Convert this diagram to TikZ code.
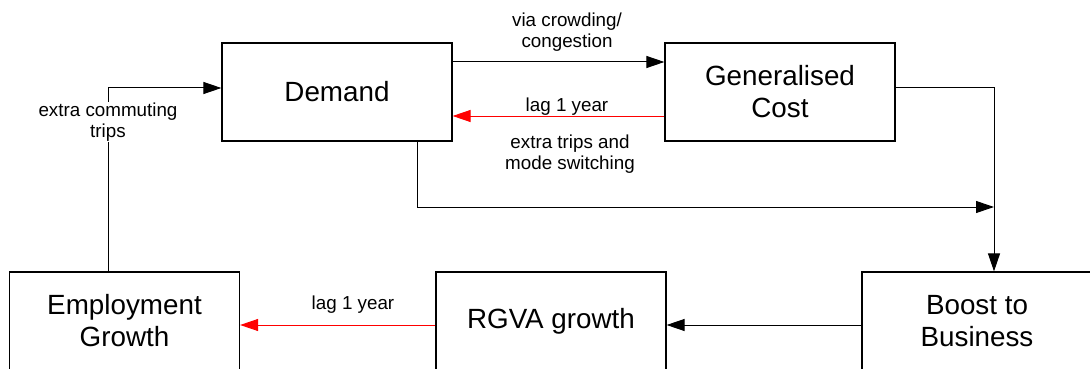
\documentclass[tikz,border=0pt]{standalone}
\usepackage{fontspec}
\setmainfont{Liberation Sans}
\usetikzlibrary{arrows.meta, calc}
\tikzset{%
    box/.style={draw, line width=1.2pt, minimum width=230pt, minimum height=98pt, align=center, inner sep=0pt, font=\fontsize{27.8}{32}\selectfont},
    lnk/.style={line width = 1pt},
    lnka/.style={line width = 1pt, -{Triangle[length=18pt,width=12pt]}},
    laga/.style={line width = 1pt, red, -{Triangle[length=18pt,width=12pt]}},
    lbl/.style={align=center, inner sep=1pt, font=\fontsize{18.8}{21}\selectfont},
}
\begin{document}
\begin{tikzpicture}[x=1pt,y=-1pt]
    \useasboundingbox (0,0) rectangle (1090,369);
    \node[box] (dem) at (337,92) {Demand};
    \node[box] (gc) at (780,92) {Generalised\\Cost};
    \node[box] (emp) at (124.5,321) {Employment\\Growth};
    \node[box] (rgva) at (551,321) {RGVA growth};
    \node[box] (boost) at (977,321) {Boost to\\Business};
    \coordinate (jn) at (994,207);
    \draw [lnka] ([yshift=30pt]dem.east) -- ([yshift=30pt]gc.west);
    \draw [laga] ([yshift=-24pt]gc.west) -- ([yshift=-24pt]dem.east);
    \draw [lnka] ([yshift=4pt]gc.east) -| ([xshift=17pt]boost.north);
    \draw [lnka] ([xshift=80pt]dem.south) |- (jn);
    \draw [lnka] ([yshift=-4pt]boost.west) -- ([yshift=-4pt]rgva.east);
    \draw [laga] ([yshift=-4pt]rgva.west) -- ([yshift=-4pt]emp.east);
    \draw [lnka] ([xshift=-16.5pt]emp.north) |- ([yshift=4pt]dem.west);
    \node[lbl] (l1) at (567,32) {via crowding/\\congestion};
    \node[lbl] (l2) at (567,107) {lag 1 year};
    \node[lbl] (l3) at (570,154) {extra trips and\\mode switching};
    \node[lbl, fill=white] (l4) at (108,122) {extra commuting\\trips};
    \node[lbl] (l5) at (353,305) {lag 1 year};
\end{tikzpicture}
\end{document}
